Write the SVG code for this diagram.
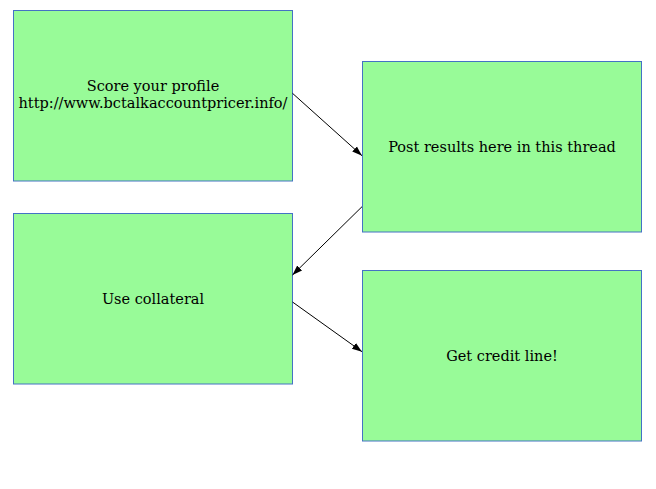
<svg xmlns="http://www.w3.org/2000/svg" width="656" height="489" viewBox="0 0 656 489">
<style>
.box{fill:#98fb98;stroke:#4472c4;stroke-width:1}
.lbl{font-family:"DejaVu Serif","Liberation Serif",serif;font-size:14.5px;fill:#000;text-anchor:middle}
.edge{stroke:#000;stroke-width:1;fill:none;marker-end:url(#ah)}
</style>
<defs>
<marker id="ah" viewBox="0 0 10 10" refX="10" refY="5" markerWidth="10" markerHeight="10" markerUnits="userSpaceOnUse" orient="auto">
<path d="M0,1.5 L10,5 L0,8.5 Z" fill="#000"/>
</marker>
</defs>
<rect width="656" height="489" fill="#fff"/>
<g id="n1"><rect class="box" x="13.5" y="10.5" width="279" height="170.5"/>
<text class="lbl" x="153" y="91">Score your profile</text>
<text class="lbl" x="153" y="108">http://www.bctalkaccountpricer.info/</text></g>
<g id="n2"><rect class="box" x="362.5" y="61.5" width="279" height="170.5"/>
<text class="lbl" x="502" y="151.5">Post results here in this thread</text></g>
<g id="n3"><rect class="box" x="13.5" y="213.5" width="279" height="170.5"/>
<text class="lbl" x="153" y="303.5">Use collateral</text></g>
<g id="n4"><rect class="box" x="362.5" y="270.5" width="279" height="170.5"/>
<text class="lbl" x="502" y="360.5">Get credit line!</text></g>
<g id="edges">
<line class="edge" x1="292.5" y1="93.3" x2="362" y2="155.7"/>
<line class="edge" x1="362" y1="206.7" x2="292.5" y2="275"/>
<line class="edge" x1="292.5" y1="302" x2="362" y2="351.7"/>
</g>
</svg>
